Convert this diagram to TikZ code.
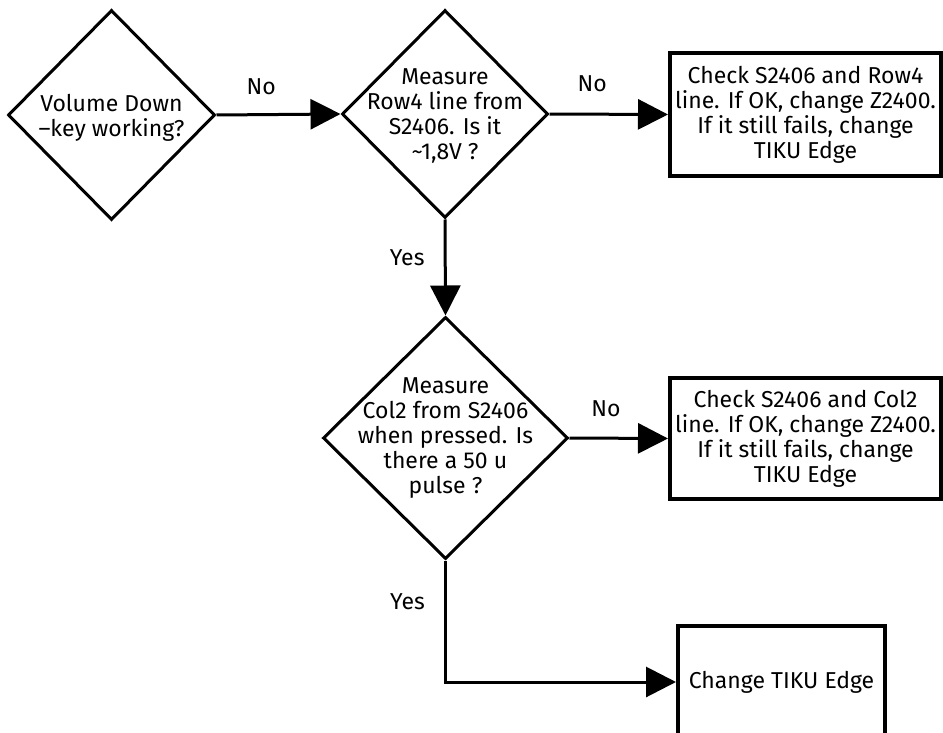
\documentclass[tikz,border=0pt]{standalone}
\usepackage{fontspec}
\setmainfont{Fira Sans}
\usetikzlibrary{shapes.geometric,arrows.meta}
\begin{document}
\begin{tikzpicture}[x=1pt,y=-1pt,
  txt/.style={font=\fontsize{23}{25}\selectfont, align=center, inner sep=0pt},
  decision/.style={diamond, draw, line width=3pt, inner sep=0pt},
  stepbox/.style={rectangle, draw, line width=4pt, inner sep=0pt, txt},
  conn/.style={line width=3pt, -{Triangle[length=30pt,width=30pt]}},
  edgetext/.style={txt, anchor=center}]

\useasboundingbox (0,0) rectangle (943,733);
\clip (0,0) rectangle (943,733);

% decisions
\node[decision, minimum width=207pt, minimum height=210pt,
      label={[txt, yshift=-3pt]center:Volume Down\\–key working?}] (d1) at (111.5,115) {};
\node[decision, minimum width=206pt, minimum height=208pt,
      label={[txt, yshift=-2pt]center:Measure\\Row4 line from\\S2406. Is it\\\textasciitilde1,8V ?}] (d2) at (445,114) {};
\node[decision, minimum width=245pt, minimum height=242pt,
      label={[txt]center:Measure\\Col2 from S2406\\when pressed. Is\\there a 50 u\\pulse ?}] (d3) at (445.5,438) {};

% actions
\node[stepbox, minimum width=271pt, minimum height=123pt] (b1) at (805.5,114.5)
  {Check S2406 and Row4\\line. If OK, change Z2400.\\If it still fails, change\\TIKU Edge};
\node[stepbox, minimum width=271pt, minimum height=121pt] (b2) at (805.5,438.5)
  {Check S2406 and Col2\\line. If OK, change Z2400.\\If it still fails, change\\TIKU Edge};
\node[stepbox, minimum width=207pt, minimum height=112pt] (b3) at (781.5,682)
  {Change TIKU Edge};

% connectors
\draw[conn] (d1.east) -- node[edgetext, pos=0.36, yshift=28pt] {No} (d2.west);
\draw[conn] (d2.east) -- node[edgetext, pos=0.36, yshift=30pt] {No} (b1.west);
\draw[conn] (d2.south) -- node[edgetext, pos=0.40, xshift=-38pt] {Yes} (d3.north);
\draw[conn] (d3.east) -- node[edgetext, pos=0.37, yshift=29pt] {No} (b2.west);
\draw[conn] (d3.south) |- node[edgetext, pos=0.17, xshift=-38pt] {Yes} (b3.west);
\end{tikzpicture}
\end{document}
